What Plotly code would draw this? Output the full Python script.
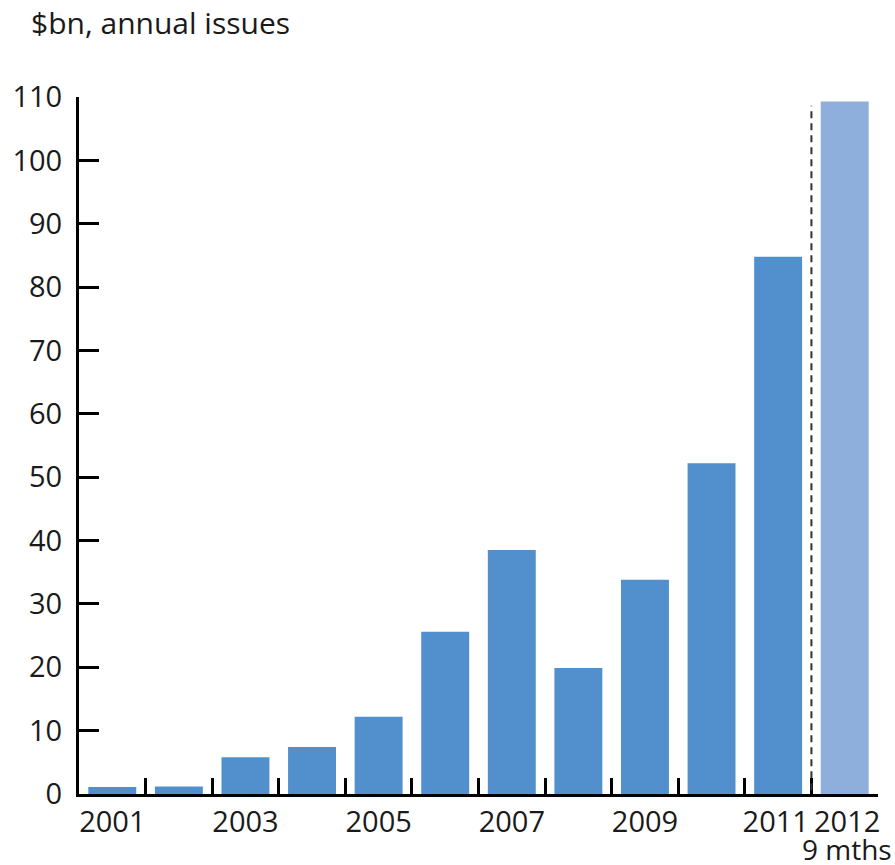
import plotly.graph_objects as go

# Annual issuance, $bn (2012 covers the first nine months)
years = ["2001", "2002", "2003", "2004", "2005", "2006",
         "2007", "2008", "2009", "2010", "2011", "2012"]
issues = [1.1, 1.2, 5.8, 7.4, 12.2, 25.6, 38.5, 19.9, 33.8, 52.2, 84.8, 109.3]
# thin spaces nudge the two crowded labels apart
tick_labels = ["2001", "", "2003", "", "2005", "", "2007", "", "2009", "",
               "2011\u2009", "\u20092012"]
partial_note = "9 mths"
y_ticks = [0, 10, 20, 30, 40, 50, 60, 70, 80, 90, 100, 110]

full_year_color = "#5190cd"
partial_year_color = "#8eafdb"
bar_colors = [full_year_color] * (len(years) - 1) + [partial_year_color]

font_family = "Open Sans, sans-serif"
text_color = "#1a1a1a"
font_size = 29

fig = go.Figure()
fig.add_trace(go.Bar(
    x=years,
    y=issues,
    marker=dict(color=bar_colors, line=dict(width=0)),
    hoverinfo="x+y",
))

# Dashed divider between full years and the partial year
split = years.index("2012") - 0.5
fig.add_shape(
    type="line", xref="x", yref="y",
    x0=split, x1=split, y0=-1.3, y1=108.6,
    line=dict(color="#333333", width=2, dash="7px,5px"),
    layer="above",
)

# Second line under the partial-year label
note_idx = years.index("2012")
fig.add_annotation(
    text=partial_note,
    xref="paper", yref="paper", x=(note_idx + 0.5) / len(years), y=0,
    yshift=-35, xshift=2, borderpad=0,
    xanchor="center", yanchor="top", showarrow=False,
    font=dict(family=font_family, size=28, color=text_color),
)

fig.add_annotation(
    text="$bn, annual issues",
    xref="paper", yref="paper", x=-0.0625, y=1.0, yshift=97,
    xanchor="left", yanchor="top", showarrow=False,
    font=dict(family=font_family, size=30, color=text_color),
)

fig.update_layout(
    width=895, height=865, autosize=False,
    margin=dict(l=79, r=17, t=97, b=71),
    paper_bgcolor="white", plot_bgcolor="white",
    bargap=0.28,
    showlegend=False,
    font=dict(family=font_family, size=font_size, color=text_color),
)
fig.update_xaxes(
    type="category",
    categoryorder="array", categoryarray=years,
    range=[-0.5, len(years) - 0.5],
    tickmode="array", tickvals=years, ticktext=tick_labels,
    tickson="boundaries", tickangle=0,
    ticks="inside", ticklen=16, tickwidth=3, tickcolor="black",
    showline=True, linecolor="black", linewidth=3,
    showgrid=False, zeroline=False,
    tickfont=dict(family=font_family, size=font_size, color=text_color),
    automargin=False,
    fixedrange=True,
)
fig.update_yaxes(
    range=[0, 110],
    tickmode="array", tickvals=y_ticks,
    ticks="inside", ticklen=20, tickwidth=3, tickcolor="black",
    showline=True, linecolor="black", linewidth=3,
    showgrid=False, zeroline=False,
    tickfont=dict(family=font_family, size=font_size, color=text_color),
    ticklabelstandoff=8,
    automargin=False,
    fixedrange=True,
)

fig.write_html("out.html")
